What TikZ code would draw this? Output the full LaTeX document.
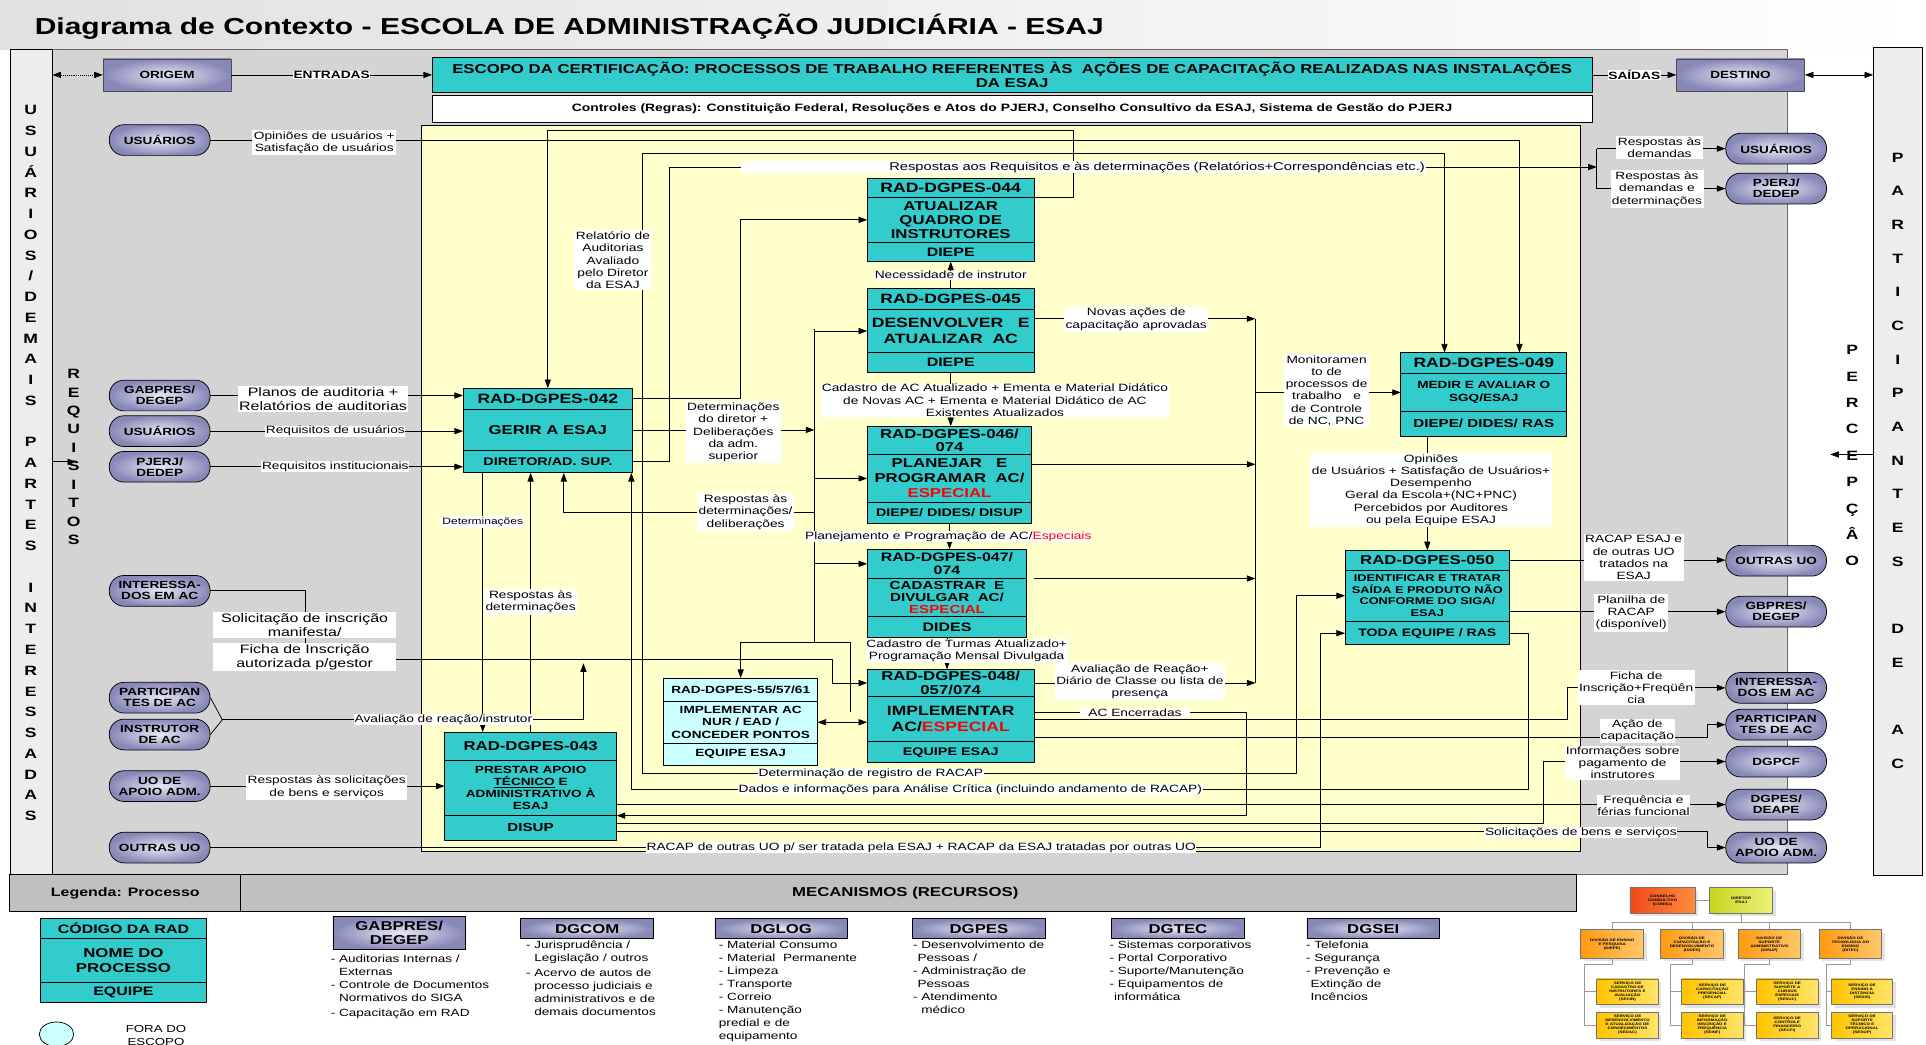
\documentclass[tikz,border=0pt]{standalone}
\usepackage{fontspec}
\setmainfont{Liberation Sans}[FakeStretch=1.3]
\usetikzlibrary{arrows.meta,positioning,shadows,shapes.geometric}
\newcommand{\fsz}[2]{\fontsize{#1}{#2}\selectfont}
\definecolor{radteal}{HTML}{33CCCC}
\definecolor{radcyan}{HTML}{CCFFFF}
\definecolor{areayel}{HTML}{FFFFCC}
\definecolor{areagray}{HTML}{D4D4D4}
\definecolor{colgray}{HTML}{EDEDED}
\definecolor{bandgray}{HTML}{C0C0C0}
\definecolor{lavin}{HTML}{E8E8F4}
\definecolor{lavout}{HTML}{8888B8}
\definecolor{orgred}{HTML}{EE4A1A}
\definecolor{orgredl}{HTML}{FF8C3C}
\definecolor{orglime}{HTML}{C9D51E}
\definecolor{orglimel}{HTML}{EEF27A}
\definecolor{orgora}{HTML}{FF9A12}
\definecolor{orgoral}{HTML}{FFC76A}
\definecolor{orgyel}{HTML}{FFC400}
\definecolor{orgyell}{HTML}{FFE46A}
\tikzset{
  vtip/.tip={Triangle[length=7pt,width=5pt]},
  arr/.style={-vtip},
  radbox/.style={draw, fill=radteal, align=center, inner sep=0pt, outer sep=0pt, minimum width=#1pt, line width=0.7pt},
  pill/.style={draw, rounded corners=12pt, inner color=lavin, outer color=lavout, minimum width=82pt, minimum height=25pt, inner sep=0pt, align=center, font=\bfseries\fsz{8.5}{9}},
  endbox/.style={draw=black!70, inner color=lavin, outer color=lavout, minimum height=26pt, inner sep=0pt, font=\bfseries\fsz{8.5}{9}},
  mech/.style={draw, inner color=lavin, outer color=lavout, minimum width=108pt, inner sep=0pt, align=center, font=\bfseries\fsz{10.5}{11}},
  mlist/.style={anchor=north west, align=left, inner sep=0pt, font=\fsz{8.5}{10.5}},
  lbl/.style={fill=white, align=center, inner sep=1.2pt, font=\fsz{8.6}{10}},
  lblbig/.style={lbl, font=\fsz{10}{11}},
  vlet/.style={align=center, inner sep=0pt, font=\bfseries\fsz{11}{#1}},
  org/.style={draw=black!55, align=center, inner sep=0pt, minimum width=50pt, minimum height=22pt, font=\bfseries\fsz{2.8}{3.3}, drop shadow={shadow xshift=2.5pt,shadow yshift=-2.5pt,fill=black!22}},
}
\begin{document}
\begin{tikzpicture}[x=1pt,y=-1pt,line join=round,line width=0.6pt]
\useasboundingbox (0,0) rectangle (1568,850);
% fundo
\shade[left color=black!12,right color=white] (0,0) rectangle (1568,40);
\node[anchor=west,inner sep=0pt,font=\bfseries\fsz{18.8}{20}] (title) at (28,22) {Diagrama de Contexto - ESCOLA DE ADMINISTRAÇÃO JUDICIÁRIA - ESAJ};
\filldraw[fill=areagray,draw=black!60] (42,40) rectangle (1455,712);
\node[draw,fill=colgray,minimum width=34pt,minimum height=672pt,inner sep=0pt,anchor=north west] (lcol) at (8,40) {};
\node[draw,fill=colgray,minimum width=40pt,minimum height=674pt,inner sep=0pt,anchor=north west] (rcol) at (1525,38) {};
\filldraw[fill=areayel] (343,102) rectangle (1287,693);
\filldraw[fill=bandgray] (8,712) rectangle (196,742);
\filldraw[fill=bandgray] (196,712) rectangle (1283,742);
\node[font=\bfseries\fsz{10}{11}] (legenda) at (102,727) {Legenda: Processo};
\node[font=\bfseries\fsz{10.5}{11}] (mecan) at (737,727) {MECANISMOS (RECURSOS)};
\node[vlet=16.9] (vUsu) at (25,377) {U\\S\\U\\Á\\R\\I\\O\\S\\/\\D\\E\\M\\A\\I\\S\\\mbox{}\\P\\A\\R\\T\\E\\S\\\mbox{}\\I\\N\\T\\E\\R\\E\\S\\S\\A\\D\\A\\S};
\node[vlet=15] (vReq) at (60,372) {R\\E\\Q\\U\\I\\S\\I\\T\\O\\S};
\node[vlet=27.4] (vPart) at (1545,375) {P\\A\\R\\T\\I\\C\\I\\P\\A\\N\\T\\E\\S\\\mbox{}\\D\\E\\\mbox{}\\A\\C};
\node[vlet=21.5] (vPerc) at (1508,371) {P\\E\\R\\C\\E\\P\\Ç\\Â\\O};
% topo
\node[endbox,minimum width=104pt] (origem) at (136,61) {ORIGEM};
\node[endbox,minimum width=104pt] (destino) at (1417,61) {DESTINO};
\node[draw,fill=radteal,minimum width=944pt,minimum height=28pt,inner sep=0pt,align=center,font=\bfseries\fsz{10.5}{11.5}] (escopo) at (824,61) {ESCOPO DA CERTIFICAÇÃO: PROCESSOS DE TRABALHO REFERENTES ÀS\ \ AÇÕES DE CAPACITAÇÃO REALIZADAS NAS INSTALAÇÕES\\DA ESAJ};
\node[draw,fill=white,minimum width=944pt,minimum height=22pt,inner sep=0pt,below=2pt of escopo,font=\bfseries\fsz{8.7}{9}] (controles) {Controles (Regras): Constituição Federal, Resoluções e Atos do PJERJ, Conselho Consultivo da ESAJ, Sistema de Gestão do PJERJ};
% externos
\foreach \nm/\txt/\y in {eUsu1/USUÁRIOS/114, eGab/{GABPRES/\\DEGEP}/322, eUsu2/USUÁRIOS/351, ePje/{PJERJ/\\DEDEP}/380, eInt/{INTERESSA-\\DOS EM AC}/481, ePart/{PARTICIPAN\\TES DE AC}/568, eInst/{INSTRUTOR\\DE AC}/598, eUoa/{UO DE\\APOIO ADM.}/640, eOut/{OUTRAS UO}/690}
  \node[pill] (\nm) at (130,\y) {\txt};
\foreach \nm/\txt/\y in {sUsu/USUÁRIOS/121, sPje/{PJERJ/\\DEDEP}/153.5, sOut/{OUTRAS UO}/456.5, sGab/{GBPRES/\\DEGEP}/498, sInt/{INTERESSA-\\DOS EM AC}/560, sPart/{PARTICIPAN\\TES DE AC}/590, sDgpcf/DGPCF/620, sDeape/{DGPES/\\DEAPE}/655, sUoa/{UO DE\\APOIO ADM.}/690}
  \node[pill] (\nm) at (1446,\y) {\txt};
% processos
\node[radbox=138,minimum height=17pt,anchor=north,font=\bfseries\fsz{11}{12}] (p42h) at (446,316) {RAD-DGPES-042};
\node[radbox=138,minimum height=34pt,below=0pt of p42h,font=\bfseries\fsz{10.5}{12}] (p42) {GERIR A ESAJ};
\node[radbox=138,minimum height=18pt,below=0pt of p42,font=\bfseries\fsz{9}{10}] (p42f) {DIRETOR/AD. SUP.};
\node[radbox=136,minimum height=16pt,anchor=north,font=\bfseries\fsz{11}{12}] (p44h) at (774,145) {RAD-DGPES-044};
\node[radbox=136,minimum height=36pt,below=0pt of p44h,font=\bfseries\fsz{10.5}{11.5}] (p44) {ATUALIZAR\\QUADRO DE\\INSTRUTORES};
\node[radbox=136,minimum height=16pt,below=0pt of p44,font=\bfseries\fsz{10}{11}] (p44f) {DIEPE};
\node[radbox=136,minimum height=17pt,anchor=north,font=\bfseries\fsz{11}{12}] (p45h) at (774,235) {RAD-DGPES-045};
\node[radbox=136,minimum height=35pt,below=0pt of p45h,font=\bfseries\fsz{11}{13}] (p45) {DESENVOLVER\ \ \ E\\ATUALIZAR\ \ AC};
\node[radbox=136,minimum height=16pt,below=0pt of p45,font=\bfseries\fsz{10}{11}] (p45f) {DIEPE};
\node[radbox=134,minimum height=23pt,anchor=north,font=\bfseries\fsz{10.5}{11}] (p46h) at (773,347) {RAD-DGPES-046/\\074};
\node[radbox=134,minimum height=39pt,below=0pt of p46h,font=\bfseries\fsz{10.5}{12.3}] (p46) {PLANEJAR\ \ \ E\\PROGRAMAR\ \ AC/\\\textcolor{red}{ESPECIAL}};
\node[radbox=134,minimum height=17pt,below=0pt of p46,font=\bfseries\fsz{9}{10}] (p46f) {DIEPE/ DIDES/ DISUP};
\node[radbox=130,minimum height=24pt,anchor=north,font=\bfseries\fsz{10}{10.8}] (p47h) at (771,447) {RAD-DGPES-047/\\074};
\node[radbox=130,minimum height=31pt,below=0pt of p47h,font=\bfseries\fsz{9.5}{10}] (p47) {CADASTRAR\ \ E\\DIVULGAR\ \ AC/\\\textcolor{red}{ESPECIAL}};
\node[radbox=130,minimum height=17pt,below=0pt of p47,font=\bfseries\fsz{10}{11}] (p47f) {DIDES};
\node[radbox=136,minimum height=22pt,anchor=north,font=\bfseries\fsz{10.5}{10.8}] (p48h) at (774,545) {RAD-DGPES-048/\\057/074};
\node[radbox=136,minimum height=37pt,below=0pt of p48h,font=\bfseries\fsz{11}{13}] (p48) {IMPLEMENTAR\\AC/\textcolor{red}{ESPECIAL}};
\node[radbox=136,minimum height=17pt,below=0pt of p48,font=\bfseries\fsz{9}{10}] (p48f) {EQUIPE ESAJ};
\node[radbox=125,fill=radcyan,minimum height=19pt,anchor=north,font=\bfseries\fsz{8.5}{9}] (p55h) at (603,552) {RAD-DGPES-55/57/61};
\node[radbox=125,fill=radcyan,minimum height=34pt,below=0pt of p55h,font=\bfseries\fsz{8.5}{10}] (p55) {IMPLEMENTAR AC\\NUR / EAD /\\CONCEDER PONTOS};
\node[radbox=125,fill=radcyan,minimum height=18pt,below=0pt of p55,font=\bfseries\fsz{8.5}{9}] (p55f) {EQUIPE ESAJ};
\node[radbox=140,minimum height=23pt,anchor=north,font=\bfseries\fsz{10.5}{11}] (p43h) at (432,596) {RAD-DGPES-043};
\node[radbox=140,minimum height=45pt,below=0pt of p43h,font=\bfseries\fsz{8.5}{9.8}] (p43) {PRESTAR APOIO\\\underline{TÉCNICO} E\\ADMINISTRATIVO À\\ESAJ};
\node[radbox=140,minimum height=20pt,below=0pt of p43,font=\bfseries\fsz{9.5}{10}] (p43f) {DISUP};
\node[radbox=135,minimum height=17pt,anchor=north,font=\bfseries\fsz{11}{12}] (p49h) at (1208,287) {RAD-DGPES-049};
\node[radbox=135,minimum height=31pt,below=0pt of p49h,font=\bfseries\fsz{8.5}{10}] (p49) {MEDIR E AVALIAR O\\SGQ/ESAJ};
\node[radbox=135,minimum height=20pt,below=0pt of p49,font=\bfseries\fsz{9.5}{10}] (p49f) {DIEPE/ DIDES/ RAS};
\node[radbox=134,minimum height=16pt,anchor=north,font=\bfseries\fsz{10.5}{11}] (p50h) at (1162,448) {RAD-DGPES-050};
\node[radbox=134,minimum height=42pt,below=0pt of p50h,font=\bfseries\fsz{8}{9.3}] (p50) {IDENTIFICAR E TRATAR\\SAÍDA E PRODUTO NÃO\\CONFORME DO SIGA/\\ESAJ};
\node[radbox=134,minimum height=19pt,below=0pt of p50,font=\bfseries\fsz{8.8}{10}] (p50f) {TODA EQUIPE / RAS};
% conexoes
\draw[densely dotted,vtip-vtip] (lcol.east |- origem) -- (origem.west);
\draw[arr] (origem.east) -- node[fill=white,inner sep=0.5pt,font=\bfseries\fsz{8.6}{9}] (lEnt) {ENTRADAS} (escopo.west |- origem);
\draw[arr] (escopo.east) -- node[fill=white,inner sep=0.5pt,font=\bfseries\fsz{8.6}{9}] (lSai) {SAÍDAS} (destino.west);
\draw[vtip-vtip] (destino.east) -- (rcol.west |- destino);
\coordinate (reqIn) at (62,376);
\draw[arr] (lcol.east |- reqIn) -- (reqIn);
\coordinate (percIn) at (1490,370);
\draw[arr] (rcol.west |- percIn) -- (percIn);
\draw[arr] (eUsu1.east) -| ([xshift=29pt]p49h.north);
\draw[arr] (eGab.east) -- (eGab -| p42h.west);
\draw[arr] (eUsu2.east) -- (eUsu2 -| p42.west);
\draw[arr] (ePje.east) -- (ePje -| p42f.west);
\coordinate (busA) at (663,268);
\coordinate (busAb) at (663,523);
\coordinate (busB) at (1022,259.5);
\coordinate (busBb) at (1022,556);
\coordinate (j42) at (523,350);
\coordinate (t125) at (523,125);
\coordinate (brk) at (1300,136);
\draw (busA) -- (busAb);
\draw (busB) -- (busBb);
\draw[arr] (p42.east) -- (busA |- p42.east);
\foreach \nm in {p45,p46,p47h}
  \draw[arr] (busA |- \nm.west) -- (\nm.west);
\draw[arr] (busAb) -| (p55h.north);
\draw (busAb) -| (692,580);
\draw[arr] (663,417) -| ([xshift=13pt]p42f.south);
\draw[arr] (j42) -- (t125) -| ([xshift=-32pt]p49h.north);
\draw[arr] (j42) |- (1055,630) |- (p50.west);
\draw[arr] (p42f.east) -| (545,136) -- (brk);
\draw (brk |- sUsu) -- (brk |- sPje);
\draw[arr] (brk |- sUsu) -- (sUsu.west);
\draw[arr] (brk |- sPje) -- (sPje.west);
\draw[arr] (p42h.east) -| ([xshift=-103pt]p44.west) -- (p44.west);
\draw[arr] (p44.north east) -| (874,106) -| (p42h.north);
\draw[arr] (p45h.north) -- (p44f.south);
\draw[arr] ([yshift=10pt]p45.east) -- (busB);
\path ([yshift=11.5pt]p46.east) coordinate (o46) ([xshift=6pt,yshift=15.5pt]p47.east) coordinate (o47);
\draw[arr] (o46) -- (o46 -| busB);
\draw[arr] (o47) -- (o47 -| busB);
\draw[arr] (p48h.east) -- (p48h.east -| busB);
\draw[arr] (busB |- p49.west) -- (p49.west);
\draw[arr] (p45f.south) -- (p45f.south |- p46h.north);
\draw[arr] (p46f.south) -- (p46f.south |- p47h.north);
\draw[arr] (p47f.south) -- (p47f.south |- p48h.north);
\draw[vtip-vtip] (p55.east) -- (p55.east -| p48.west);
\draw[arr] ([xshift=-46pt]p49f.south) -- ([xshift=-46pt]p49f.south |- p50h.north);
\draw[arr] (p50h.east) -- (p50h.east -| sOut.west);
\draw[arr] (p50.east |- sGab) -- (sGab.west);
\draw[arr] (p50f.east) -| (1244,643) -| ([xshift=68pt]p42f.south);
\draw[arr] (eOut.east) -| ([xshift=-20pt]p50f.west) -- (p50f.west);
\draw[arr] ([yshift=5.5pt]p48.east) -| (1015,664) -- (p43f.north east);
\draw[arr] (p48.east) -| ([xshift=-129pt]sInt.west) -- (sInt.west);
\draw[arr] ([yshift=-14.5pt]p48.east) -| ([xshift=-15pt]sPart.west) -- (sPart.west);
\draw[arr] (eUoa.east) -- (eUoa -| p43.west);
\draw[arr] ([yshift=4pt]p43f.east) -| ([xshift=-148pt]sDgpcf.west) -- (sDgpcf.west);
\draw[arr] (p43.east |- sDeape) -- (sDeape.west);
\draw[arr] ([yshift=-3pt]p43f.east) -| ([xshift=-15pt]sUoa.west) -- (sUoa.west);
\draw[arr] ([xshift=-53pt]p42f.south) -- ([xshift=-53pt]p42f.south |- p43h.north);
\draw[arr] (p43h.north) -- (p43h.north |- p42f.south);
\draw[arr] (eInt.east) -| (249,537) -| ([xshift=-28pt]p48h.west) -- (p48h.west);
\coordinate (brL) at (181,586);
\draw (ePart.east) -- (brL) -- (eInst.east);
\draw[arr] (brL) -| (475,540);
% rotulos
\node[lbl] (lOpin) at (264,116) {Opiniões de usuários +\\Satisfação de usuários};
\node[lblbig] (lPlan) at (263,325) {Planos de auditoria +\\Relatórios de auditorias};
\node[lbl,inner sep=0.5pt] (lReqU) at (273,351) {Requisitos de usuários};
\node[lbl,inner sep=0.5pt] (lReqI) at (273,380) {Requisitos institucionais};
\node[lblbig,minimum width=149pt] (lSol) at (248,509) {Solicitação de inscrição\\manifesta/};
\node[lblbig,minimum width=149pt] (lFic) at (248,535) {Ficha de Inscrição\\autorizada p/gestor};
\node[lbl,inner sep=0.5pt] (lAval) at (361,586) {Avaliação de reação/instrutor};
\node[lbl] (lRsol) at (266,641) {Respostas às solicitações\\de bens e serviços};
\node[lbl,inner sep=0.5pt] (lRacap) at (750,690) {RACAP de outras UO p/ ser tratada pela ESAJ + RACAP da ESAJ tratadas por outras UO};
\node[lbl,font=\fsz{7.5}{8.5}] (lDet) at (393,425) {Determinações};
\node[lbl] (lRdet) at (432,490) {Respostas às\\determinações};
\node[lbl] (lRel) at (499,212) {Relatório de\\Auditorias\\Avaliado\\pelo Diretor\\da ESAJ};
\node[lbl,inner sep=0.8pt,text width=556pt,align=right,font=\fsz{9.2}{10}] (lResp) at (882,136) {Respostas aos Requisitos e às determinações (Relatórios+Correspondências etc.)};
\node[lbl,inner sep=0.5pt] (lNec) at (774,224) {Necessidade de instrutor};
\node[lbl] (lNov) at (925,260) {Novas ações de\\capacitação aprovadas};
\node[lbl,inner sep=0.5pt] (lCad) at (810,326) {Cadastro de AC Atualizado + Ementa e Material Didático\\de Novas AC + Ementa e Material Didático de AC\\Existentes Atualizados};
\node[lbl] (lDdir) at (597,352) {Determinações\\do diretor +\\Deliberações\\da adm.\\superior};
\node[lbl] (lRdel) at (607,417) {Respostas às\\determinações/\\deliberações};
\node[lbl,inner sep=0.5pt] (lPla) at (772,437) {Planejamento e Programação de AC/\textcolor{red}{Especiais}};
\node[lbl,inner sep=0.5pt] (lTur) at (787,530) {Cadastro de Turmas Atualizado+\\Programação Mensal Divulgada};
\node[lbl] (lAvr) at (928,555) {Avaliação de Reação+\\Diário de Classe ou lista de\\presença};
\node[lbl,inner sep=0.5pt] (lEnc) at (924,580) {\ \ AC Encerradas\ \ };
\node[lbl,inner sep=0.5pt] (lDreg) at (709,630) {Determinação de registro de RACAP};
\node[lbl,inner sep=0.5pt] (lDados) at (790,643) {Dados e informações para Análise Crítica (incluindo andamento de RACAP)};
\node[lbl] (lMon) at (1080,318) {Monitoramen\\to de\\processos de\\trabalho\ \ \ e\\de Controle\\de NC, PNC};
\node[lbl] (lOp2) at (1165,399) {Opiniões\\de Usuários + Satisfação de Usuários+\\Desempenho\\Geral da Escola+(NC+PNC)\\Percebidos por Auditores\\ou pela Equipe ESAJ};
\node[lbl] (lRdem) at (1351,120) {Respostas às\\demandas};
\node[lbl] (lRdd) at (1349,154) {Respostas às\\demandas e\\determinações};
\node[lbl] (lRac) at (1330,454) {RACAP ESAJ e\\de outras UO\\tratados na\\ESAJ};
\node[lbl] (lPlan2) at (1328,499) {Planilha de\\RACAP\\(disponível)};
\node[lbl] (lFic2) at (1332,560) {Ficha de\\Inscrição+Freqüên\\cia};
\node[lbl,inner sep=0.5pt] (lAcao) at (1333,595) {Ação de\\capacitação};
\node[lbl,inner sep=0.5pt] (lInf) at (1321,621) {Informações sobre\\pagamento de\\instrutores};
\node[lbl,inner sep=0.5pt] (lFreq) at (1338,656) {Frequência e\\férias funcional};
\node[lbl,inner sep=0.5pt] (lSbs) at (1287,678) {Solicitações de bens e serviços};
% legenda
\node[radbox=135,minimum height=16pt,anchor=north,font=\bfseries\fsz{10}{11}] (legh) at (100.5,748) {CÓDIGO DA RAD};
\node[radbox=135,minimum height=36pt,below=0pt of legh,font=\bfseries\fsz{10.5}{12}] (leg) {NOME DO\\PROCESSO};
\node[radbox=135,minimum height=16pt,below=0pt of leg,font=\bfseries\fsz{10}{11}] (legf) {EQUIPE};
\node[draw,ellipse,fill=radcyan,minimum width=28pt,minimum height=20pt,inner sep=0pt] (legc) at (46,842) {};
\node[align=center,inner sep=0pt,font=\fsz{8.3}{10}] (legt) at (127,843) {FORA DO\\ESCOPO};
% mecanismos
\node[mech,minimum height=27pt] (mGab) at (325,759.5) {GABPRES/\\DEGEP};
\foreach \nm/\txt/\x in {mCom/DGCOM/478, mLog/DGLOG/636, mPes/DGPES/797, mTec/DGTEC/959, mSei/DGSEI/1118}
  \node[mech,minimum height=16pt] (\nm) at (\x,756) {\txt};
\node[mlist] (lsGab) at (269,777) {- Auditorias Internas /\\\phantom{- }Externas\\- Controle de Documentos\\\phantom{- }Normativos do SIGA\\[2pt]- Capacitação em RAD};
\node[mlist] (lsCom) at (428,766) {- Jurisprudência /\\\phantom{- }Legislação / outros\\[1.5pt]- Acervo de autos de\\\phantom{- }processo judiciais e\\\phantom{- }administrativos e de\\\phantom{- }demais documentos};
\node[mlist] (lsLog) at (585,766) {- Material Consumo\\- Material\ \ Permanente\\- Limpeza\\- Transporte\\- Correio\\- Manutenção\\predial e de\\equipamento};
\node[mlist] (lsPes) at (743,766) {- Desenvolvimento de\\\phantom{-}Pessoas /\\- Administração de\\\phantom{-}Pessoas\\- Atendimento\\\phantom{- }médico};
\node[mlist] (lsTec) at (903,766) {- Sistemas corporativos\\- Portal Corporativo\\- Suporte/Manutenção\\- Equipamentos de\\\phantom{-}informática};
\node[mlist] (lsSei) at (1063,766) {- Telefonia\\- Segurança\\- Prevenção e\\\phantom{-}Extinção de\\\phantom{-}Incêncios};
% organograma
\node[org,left color=orgred,right color=orgredl,minimum width=53pt,minimum height=21pt] (oConsu) at (1353.5,733) {CONSELHO\\CONSULTIVO\\(CONSU)};
\node[org,left color=orglime,right color=orglimel,minimum width=51pt,minimum height=21pt] (oDir) at (1417.5,733) {DIRETOR\\ESAJ};
\foreach \nm/\txt/\x in {oDiepe/{DIVISÃO DE ENSINO\\E PESQUISA\\(DIEPE)}/1312.5, oDides/{DIVISÃO DE\\CAPACITAÇÃO E\\DESENVOLVIMENTO\\(DIDES)}/1377.5, oDisup/{DIVISÃO DE\\SUPORTE\\ADMINISTRATIVO\\(DISUP)}/1440.5, oDitec/{DIVISÃO DE\\TECNOLOGIA DO\\ENSINO\\(DITEC)}/1506.5}
  \node[org,left color=orgora,right color=orgoral,minimum width=51pt,minimum height=23pt] (\nm) at (\x,768.5) {\txt};
\foreach \nm/\txt/\x/\y in {oSecin/{SERVIÇO DE\\CADASTRO DE\\INSTRUTORES E\\AVALIAÇÃO\\(SECIN)}/1325/807.5, oSedac/{SERVIÇO DE\\DESENVOLVIMENTO\\E ATUALIZAÇÃO DE\\CONHECIMENTOS\\(SEDAC)}/1325/834.5, oSecap/{SERVIÇO DE\\CAPACITAÇÃO\\PRESENCIAL\\(SECAP)}/1394/807.5, oSeinf/{SERVIÇO DE\\INFORMAÇÃO\\INSCRIÇÃO E\\FREQUÊNCIA\\(SEINF)}/1394/834.5, oSesuc/{SERVIÇO DE\\SUPORTE A\\CURSOS\\ESPECIAIS\\(SESUC)}/1455/807.5, oSecfi/{SERVIÇO DE\\CONTROLE\\FINANCEIRO\\(SECFI)}/1455/834.5, oSedis/{SERVIÇO DE\\ENSINO À\\DISTÂNCIA\\(SEDIS)}/1516/807.5, oSesop/{SERVIÇO DE\\SUPORTE\\TÉCNICO E\\OPERACIONAL\\(SESOP)}/1516/834.5}
  \node[org,left color=orgyel,right color=orgyell,minimum height=21pt] (\nm) at (\x,\y) {\txt};
\coordinate (obus) at (1418,751);
\begin{scope}[draw=black!40,line width=0.8pt]
\draw (oConsu.east) -- (oDir.west);
\draw (oDir.south) -- (obus);
\draw (oDiepe.north) |- (obus) -| (oDitec.north);
\draw (oDides.north) -- (oDides.north |- obus);
\draw (oDisup.north) -- (oDisup.north |- obus);
\foreach \d/\a/\b/\x in {oDiepe/oSecin/oSedac/1290, oDides/oSecap/oSeinf/1360, oDisup/oSesuc/oSecfi/1420, oDitec/oSedis/oSesop/1487}
  \draw (\d.south) |- (\x,785) |- (\a.west) (\x,785) |- (\b.west);
\end{scope}
\end{tikzpicture}
\end{document}
